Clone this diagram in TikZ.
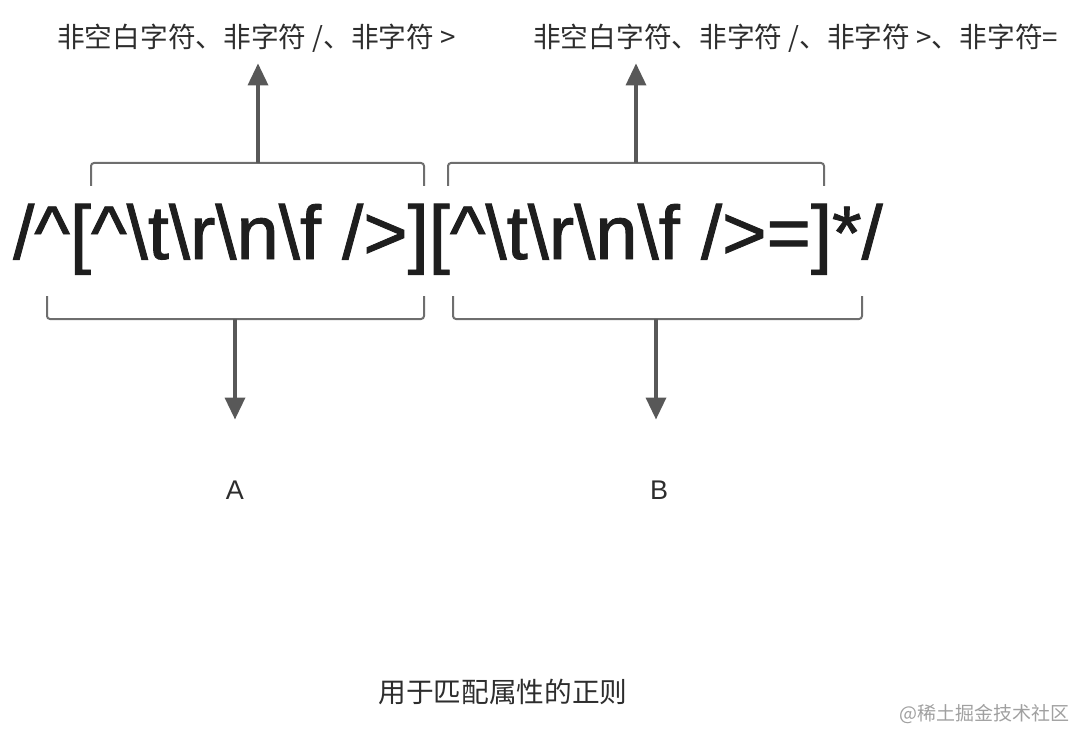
\documentclass[tikz,border=0pt]{standalone}
\usepackage{fontspec}
\setmainfont{Liberation Sans}
\newfontfamily\cjk{Noto Sans CJK SC}
\newfontfamily\regexfont[FakeBold=1.2]{Liberation Sans}
\usepackage{xcolor}
\definecolor{regexInk}{RGB}{30,30,30}
\definecolor{labelInk}{RGB}{45,45,45}
\definecolor{braceGray}{RGB}{110,110,110}
\definecolor{arrowGray}{RGB}{88,88,88}
\definecolor{markGray}{RGB}{160,160,160}
\usepackage{tikz}
\usetikzlibrary{arrows.meta,calc,positioning}
\tikzstyle{cnlabel}=[inner sep=0pt, anchor=west, text=labelInk, font=\cjk\fontsize{27.7}{30}\selectfont]
\tikzstyle{partname}=[inner sep=0pt, text=labelInk, font=\fontsize{27}{30}\selectfont]
\tikzstyle{bracketline}=[draw=braceGray, line width=2pt, rounded corners=3pt]
\tikzstyle{flowarrow}=[-{Triangle[width=20pt,length=22pt]}, line width=3.5pt, color=arrowGray]

\begin{document}
\begin{tikzpicture}[x=1pt, y=-1pt]
    \useasboundingbox (0,0) rectangle (1076,730);

    % regex
    \node[inner sep=0pt, anchor=base west, text=regexInk,
          font=\regexfont\fontsize{76}{80}\selectfont] (re) at (13,259)
      {/\textasciicircum[\textasciicircum\textbackslash t\textbackslash r\textbackslash n\textbackslash f />][\textasciicircum\textbackslash t\textbackslash r\textbackslash n\textbackslash f />=]*/};

    % colchetes de cima
    \draw[bracketline] (91,186) |- (424,163) -- (424,186);
    \draw[bracketline] (448,186) |- (824,163) -- (824,186);
    \coordinate (topA) at (258,163);
    \coordinate (topB) at (636,163);

    % colchetes de baixo
    \draw[bracketline] (47,296) |- (424,319) -- (424,296);
    \draw[bracketline] (453,296) |- (862,319) -- (862,296);
    \coordinate (botA) at (235,319);
    \coordinate (botB) at (656,319);

    % rótulos
    \node[cnlabel] (labA) at (57,38) {非空白字符、非字符 /、非字符 >};
    \node[cnlabel] (labB) at (533,38) {非空白字符、非字符 /、非字符 >、非字符=};
    \node[partname] (resA) at (235,490) {A};
    \node[partname] (resB) at (659,490) {B};

    % setas
    \draw[flowarrow, shorten >=11pt] (topA) -- (topA |- labA.south);
    \draw[flowarrow, shorten >=11pt] (topB) -- (topB |- labB.south);
    \draw[flowarrow, shorten >=61pt] (botA) -- (botA |- resA.north);
    \draw[flowarrow, shorten >=61pt] (botB) -- (botB |- resB.north);

    % legenda
    \node[cnlabel, anchor=center] (caption) at (503,692) {用于匹配属性的正则};
    \node[inner sep=0pt, anchor=east, text=markGray,
          font=\cjk\fontsize{19}{22}\selectfont] (mark) at (1070,714) {@稀土掘金技术社区};
\end{tikzpicture}
\end{document}
